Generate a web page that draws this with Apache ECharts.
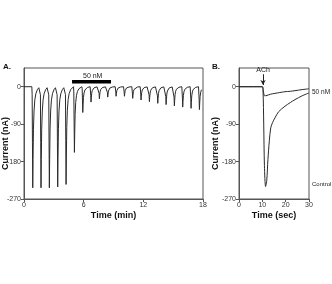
<!DOCTYPE html>
<html>
<head>
<meta charset="utf-8">
<script src="https://cdn.jsdelivr.net/npm/echarts@6/dist/echarts.min.js"></script>
<style>
  html, body { margin: 0; padding: 0; background: #fff; }
  #chart { width: 332px; height: 284px; }
</style>
</head>
<body>
<div id="chart"></div>
<script>
// Panel A: repeated ACh pulses, onset time (min) and peak current (nA)
var pulseOnsets = [0.79, 1.62, 2.46, 3.30, 4.14, 4.98, 5.82, 6.65, 7.49, 8.33, 9.17,
                   10.01, 10.84, 11.68, 12.52, 13.36, 14.20, 15.03, 15.87, 16.71, 17.55];
var pulsePeaks = [-243, -243, -243, -241, -235, -158, -62, -37, -29, -25, -23,
                  -23, -28, -32, -36, -40, -43, -46, -49, -52, -55];
// shape of one pulse: [minutes after onset, fraction of peak]
var pulseShape = [[0, 0], [0.03, 0.08], [0.06, 0.55], [0.09, 1], [0.12, 0.72], [0.16, 0.42],
                  [0.22, 0.24], [0.30, 0.13], [0.40, 0.07], [0.55, 0.03], [0.70, 0.01]];
var traceEnd = 17.85;
var drugBar = [4.83, 8.75];
var drugBarLevel = 12;

// Panel B: single responses (sec, nA)
var controlTime = [0, 10.0, 10.3, 10.6, 10.9, 11.4, 11.9, 12.4, 13.0, 13.6, 14.4, 15.4, 17.0, 19.7, 22.0, 24.0, 27.0, 30.0];
var controlCurr = [0, 0, -10, -90, -190, -240, -225, -175, -130, -99, -86, -75, -60, -47, -38, -31, -22, -15];
var drugTime = [0, 10.0, 10.4, 11.0, 12.0, 13.5, 15.4, 17.5, 19.7, 22.0, 24.0, 27.0, 30.0];
var drugCurr = [0, 0, -10, -22, -21, -18, -16, -14, -12, -11, -9.5, -7, -5];
var achTime = 10.3;

var xTicksA = [0, 6, 12, 18];
var xTicksB = [0, 10, 20, 30];
var yTicks = [-270, -180, -90, 0];

var traceA = [[0, 0]];
pulseOnsets.forEach(function (t0, i) {
  pulseShape.forEach(function (p) {
    var t = t0 + p[0];
    if (t <= traceEnd) traceA.push([t, pulsePeaks[i] * p[1]]);
  });
});

var chart = echarts.init(document.getElementById('chart'));

var font = 'Liberation Sans, Arial, sans-serif';
var axisCol = '#555';
var traceCol = '#2a2a2a';

function xAxis(idx, ticks, name) {
  return {
    type: 'value', gridIndex: idx,
    min: ticks[0], max: ticks[ticks.length - 1], interval: ticks[1] - ticks[0],
    name: name, nameLocation: 'middle', nameGap: 12,
    nameTextStyle: { fontFamily: font, fontWeight: 'bold', fontSize: 9, color: '#111' },
    axisLine: { onZero: false, lineStyle: { color: axisCol } },
    axisTick: { length: 3, lineStyle: { color: axisCol } },
    axisLabel: { fontFamily: font, fontSize: 7, color: '#333', margin: 3 },
    splitLine: { show: false }
  };
}

function yAxis(idx, gap) {
  return {
    type: 'value', gridIndex: idx,
    min: -270, max: 45,
    name: 'Current (nA)', nameLocation: 'middle', nameGap: gap, nameRotate: 90,
    nameMoveOverlap: false,
    nameTextStyle: { fontFamily: font, fontWeight: 'bold', fontSize: 9, color: '#111',
                     padding: [0, 20, 0, 0] },
    axisLine: { lineStyle: { color: axisCol } },
    axisTick: { length: 3, customValues: yTicks, lineStyle: { color: axisCol } },
    axisLabel: { fontFamily: font, fontSize: 7, color: '#333', margin: 3, customValues: yTicks },
    splitLine: { show: false }
  };
}

var option = {
  animation: false,
  grid: [
    { left: 24, top: 68, width: 179, height: 131, show: true, borderColor: axisCol, borderWidth: 1,
      outerBoundsMode: 'none', containLabel: false },
    { left: 239, top: 68, width: 70, height: 131, show: true, borderColor: axisCol, borderWidth: 1,
      outerBoundsMode: 'none', containLabel: false }
  ],
  xAxis: [xAxis(0, xTicksA, 'Time (min)'), xAxis(1, xTicksB, 'Time (sec)')],
  yAxis: [yAxis(0, 14), yAxis(1, 19)],
  series: [
    {
      type: 'line', xAxisIndex: 0, yAxisIndex: 0, data: traceA,
      showSymbol: false, lineStyle: { color: traceCol, width: 1 }
    },
    {
      type: 'line', xAxisIndex: 0, yAxisIndex: 0,
      data: [[drugBar[0], drugBarLevel], [drugBar[1], drugBarLevel]],
      showSymbol: false, lineStyle: { color: '#000', width: 3.5 }
    },
    {
      type: 'line', xAxisIndex: 1, yAxisIndex: 1,
      data: controlTime.map(function (t, i) { return [t, controlCurr[i]]; }),
      showSymbol: false, smooth: 0.3, lineStyle: { color: traceCol, width: 1 }
    },
    {
      type: 'line', xAxisIndex: 1, yAxisIndex: 1,
      data: drugTime.map(function (t, i) { return [t, drugCurr[i]]; }),
      showSymbol: false, smooth: 0.3, lineStyle: { color: traceCol, width: 1 },
      markLine: {
        silent: true, symbol: ['none', 'arrow'], symbolSize: [4, 5],
        lineStyle: { color: '#222', width: 1, type: 'solid' },
        label: { show: true, position: 'start', formatter: 'ACh', fontFamily: font, fontSize: 7, color: '#222', distance: 1 },
        data: [[{ coord: [achTime, 30] }, { coord: [achTime, 4] }]]
      }
    }
  ],
  graphic: [
    { type: 'text', left: 3, top: 63, style: { text: 'A.', font: 'bold 8px ' + font, fill: '#111' } },
    { type: 'text', left: 212, top: 63, style: { text: 'B.', font: 'bold 8px ' + font, fill: '#111' } },
    { type: 'text', left: 83, top: 73, style: { text: '50 nM', font: '7px ' + font, fill: '#222' } },
    { type: 'text', left: 312, top: 89, style: { text: '50 nM', font: '6.5px ' + font, fill: '#222' } },
    { type: 'text', left: 312, top: 181, style: { text: 'Control', font: '6px ' + font, fill: '#222' } }
  ]
};

chart.setOption(option);
</script>
</body>
</html>
